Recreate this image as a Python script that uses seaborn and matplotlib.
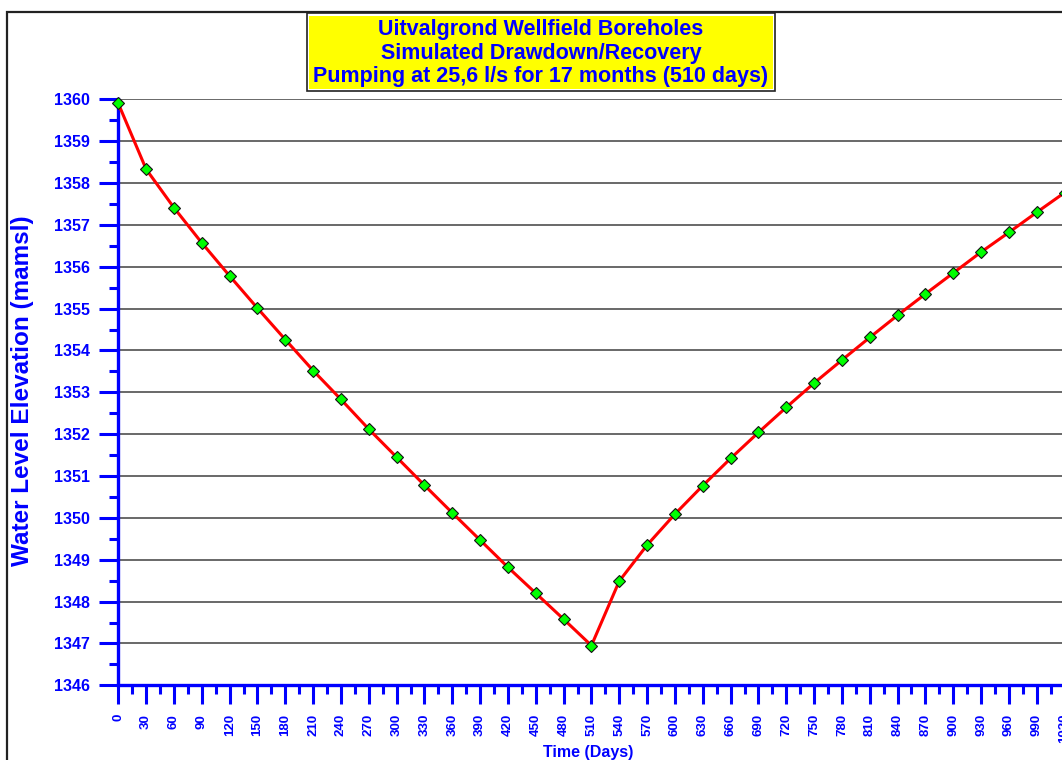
import matplotlib
matplotlib.use("Agg")
import matplotlib.pyplot as plt
from matplotlib.patches import Rectangle
from matplotlib.ticker import MultipleLocator
import numpy as np
import pandas as pd
import seaborn as sns

# Simulated water level at the wellfield, sampled every 30 days
days = [0, 30, 60, 90, 120, 150, 180, 210, 240, 270, 300, 330, 360, 390, 420,
        450, 480, 510, 540, 570, 600, 630, 660, 690, 720, 750, 780, 810, 840,
        870, 900, 930, 960, 990, 1020]
water_level = [1359.90, 1358.33, 1357.41, 1356.57, 1355.78, 1355.01, 1354.26,
               1353.52, 1352.83, 1352.12, 1351.45, 1350.78, 1350.12, 1349.47,
               1348.82, 1348.20, 1347.58, 1346.95, 1348.49, 1349.35, 1350.09,
               1350.77, 1351.42, 1352.04, 1352.64, 1353.22, 1353.77, 1354.31,
               1354.84, 1355.35, 1355.85, 1356.35, 1356.82, 1357.30, 1357.77]

title_lines = ["Uitvalgrond Wellfield Boreholes",
               "Simulated Drawdown/Recovery",
               "Pumping at 25,6 l/s for 17 months (510 days)"]
x_label = "Time (Days)"
y_label = "Water Level Elevation (mamsl)"

df = pd.DataFrame({"days": days, "level": water_level})

sns.set_theme(style="white")
plt.rcParams["font.family"] = ["Liberation Sans", "DejaVu Sans"]
plt.rcParams["font.weight"] = "bold"

BLUE = "#0000FF"
W, H = 1062, 760
fig = plt.figure(figsize=(W / 100, H / 100), dpi=100)
fig.patch.set_facecolor("white")

# outer frame of the chart page (runs off the right and bottom edges)
fig.patches.append(Rectangle((7 / W, -0.05), 1.2, 1 - 11.5 / H + 0.05,
                             transform=fig.transFigure, fill=False,
                             edgecolor="#222222", linewidth=1.6, zorder=0))

ax = fig.add_axes([118.3 / W, 1 - 685.3 / H, 974.1 / W, 586.0 / H])
ax.set_facecolor("white")

sns.lineplot(data=df, x="days", y="level", ax=ax, color="#FF0000",
             linewidth=2.2, marker="D", markersize=6.2,
             markerfacecolor="#00FF00", markeredgecolor="#111111",
             markeredgewidth=0.8, clip_on=False, zorder=5)

ax.set_xlim(0, 1050)
ax.set_ylim(1346, 1360)
ax.xaxis.set_major_locator(MultipleLocator(30))
ax.xaxis.set_minor_locator(MultipleLocator(15))
ax.yaxis.set_major_locator(MultipleLocator(1))
ax.yaxis.set_minor_locator(MultipleLocator(0.5))

ax.grid(False)
ax.yaxis.grid(True, which="major", color="#404040", linewidth=1.1)
ax.set_axisbelow(True)

for side in ("top", "right"):
    ax.spines[side].set_visible(False)
for side in ("left", "bottom"):
    ax.spines[side].set_color(BLUE)
    ax.spines[side].set_linewidth(2.4)

ax.tick_params(axis="both", which="both", bottom=True, left=True,
               top=False, right=False)
ax.tick_params(axis="both", which="major", direction="out", color=BLUE,
               length=13.5, width=2.2, labelcolor=BLUE, pad=7)
ax.tick_params(axis="both", which="minor", direction="out", color=BLUE,
               length=6.8, width=2.2)
ax.tick_params(axis="y", which="major", labelsize=11.5)
ax.tick_params(axis="x", which="major", labelsize=9.5, labelrotation=90)
for lab in ax.get_xticklabels() + ax.get_yticklabels():
    lab.set_fontweight("bold")

ax.set_xlabel(x_label, color=BLUE, fontsize=11.5, fontweight="bold")
ax.xaxis.set_label_coords((588 - 118.3) / 974.1, (685.3 - 745) / 586.0)
ax.set_ylabel(y_label, color=BLUE, fontsize=17.5, fontweight="bold")
ax.yaxis.set_label_coords((34 - 118.3) / 974.1, 0.502)

# title box
bx0, bx1, by0, by1 = 306.7, 775.0, 13.3, 91.0
fig.patches.append(Rectangle((bx0 / W, 1 - by1 / H), (bx1 - bx0) / W,
                             (by1 - by0) / H, transform=fig.transFigure,
                             facecolor="white", edgecolor="#222222",
                             linewidth=1.2, zorder=1))
fig.patches.append(Rectangle(((bx0 + 2.5) / W, 1 - (by1 - 2.5) / H),
                             (bx1 - bx0 - 5) / W, (by1 - by0 - 5) / H,
                             transform=fig.transFigure, facecolor="#FFFF00",
                             edgecolor="none", zorder=2))
fig.text((bx0 + bx1) / 2 / W, 1 - 53.0 / H, "\n".join(title_lines),
         ha="center", va="center", color=BLUE, fontsize=15.5,
         fontweight="bold", linespacing=1.13, zorder=3)

fig.savefig("out.png", dpi=100)
